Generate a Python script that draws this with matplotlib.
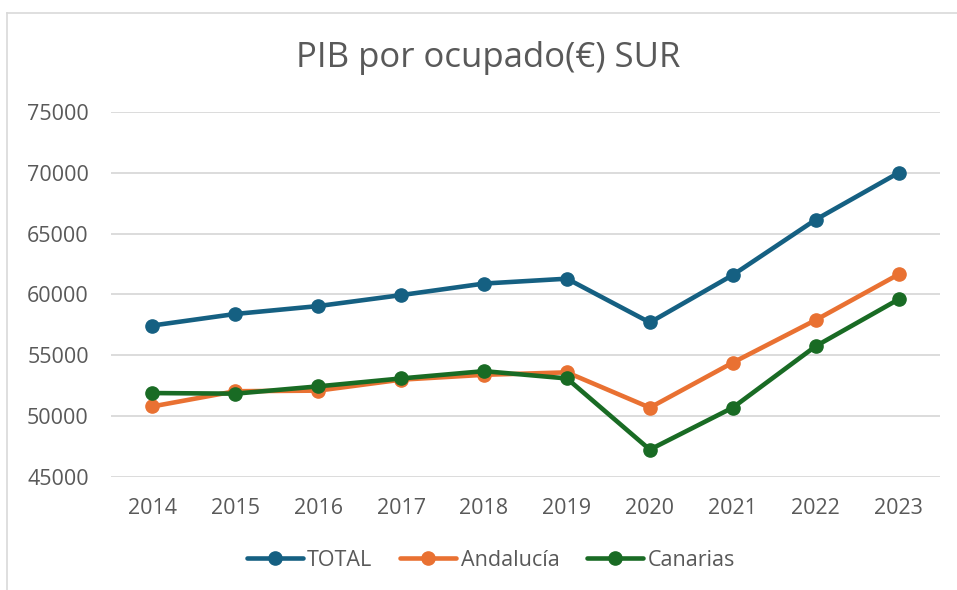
import matplotlib
matplotlib.use('Agg')
import matplotlib.pyplot as plt
from matplotlib.lines import Line2D

plt.rcParams['font.family'] = ['Open Sans', 'DejaVu Sans']

years = ['2014', '2015', '2016', '2017', '2018', '2019', '2020', '2021', '2022', '2023']
total = [57450, 58400, 59050, 59950, 60900, 61300, 57700, 61600, 66150, 70000]
andalucia = [50800, 52050, 52100, 53000, 53400, 53600, 50700, 54400, 57900, 61650]
canarias = [51900, 51850, 52450, 53100, 53700, 53100, 47250, 50700, 55750, 59600]

series = [('TOTAL', total, '#156082'),
          ('Andalucía', andalucia, '#E97132'),
          ('Canarias', canarias, '#196B24')]

fig = plt.figure(figsize=(9.57, 5.9), dpi=100)
ax = fig.add_axes([111/957, 1 - 477/590, 829/957, 365/590])

# chart area border (only top/left visible in the reference)
fig.add_artist(Line2D([7/957, 1], [1 - 13/590, 1 - 13/590], transform=fig.transFigure, color='#D9D9D9', lw=1.2))
fig.add_artist(Line2D([7/957, 7/957], [0, 1 - 13/590], transform=fig.transFigure, color='#D9D9D9', lw=1.2))

x = list(range(len(years)))
for name, vals, col in series:
    ax.plot(x, vals, color=col, lw=3.3, marker='o', markersize=9.5, label=name,
            solid_capstyle='round', solid_joinstyle='round')

ax.set_xlim(-0.5, len(years) - 0.5)
ax.set_ylim(45000, 75000)
ax.set_yticks(range(45000, 75001, 5000))
ax.set_xticks(x)
ax.set_xticklabels(years)
ax.yaxis.grid(True, color='#D9D9D9', lw=1.3)
ax.set_axisbelow(True)
for s in ax.spines.values():
    s.set_visible(False)
ax.tick_params(length=0, labelsize=15.5, colors='#595959')
ax.tick_params(axis='x', pad=15)
ax.tick_params(axis='y', pad=16)

fig.text(488/957, 1 - 58/590, 'PIB por ocupado(€) SUR', ha='center', va='center',
         fontsize=25, color='#595959')

fig.legend(loc='center', bbox_to_anchor=(491/957, 1 - 560/590), ncol=3, frameon=False,
           fontsize=15.5, labelcolor='#595959', handlelength=2.6, handletextpad=0.2,
           columnspacing=1.3)

fig.savefig('out.png', dpi=100)
